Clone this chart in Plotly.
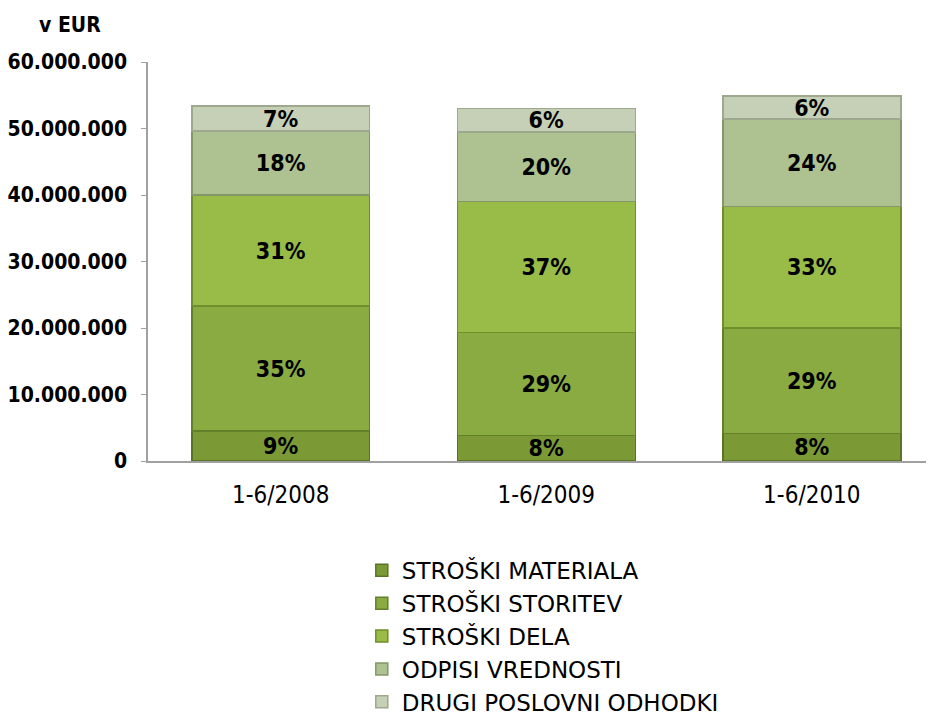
import plotly.graph_objects as go

categories = ["1-6/2008", "1-6/2009", "1-6/2010"]
series_names = ["STROŠKI MATERIALA", "STROŠKI STORITEV", "STROŠKI DELA",
                "ODPISI VREDNOSTI", "DRUGI POSLOVNI ODHODKI"]

materiala = [4.5e6, 3.8e6, 4.1e6]
storitev = [18.8e6, 15.5e6, 15.9e6]
dela = [16.7e6, 19.7e6, 18.3e6]
odpisi = [9.6e6, 10.5e6, 13.1e6]
drugi = [3.8e6, 3.5e6, 3.5e6]

lbl_materiala = ["9%", "8%", "8%"]
lbl_storitev = ["35%", "29%", "29%"]
lbl_dela = ["31%", "37%", "33%"]
lbl_odpisi = ["18%", "20%", "24%"]
lbl_drugi = ["7%", "6%", "6%"]

y_ticks = [0, 10e6, 20e6, 30e6, 40e6, 50e6, 60e6]
y_tick_text = ["0", "10.000.000", "20.000.000", "30.000.000",
               "40.000.000", "50.000.000", "60.000.000"]

values = [materiala, storitev, dela, odpisi, drugi]
labels = [lbl_materiala, lbl_storitev, lbl_dela, lbl_odpisi, lbl_drugi]
colors = ["#7b9a36", "#8aab42", "#98bc47", "#adc290", "#c6d0b6"]
lines = ["#5a7426", "#62802a", "#6f8e2c", "#84976a", "#9ea88f"]

FONT = "DejaVu Sans Condensed, DejaVu Sans, sans-serif"
FONT_R = "DejaVu Sans, sans-serif"

fig = go.Figure()
for name, vals, lbl, c, lc in zip(series_names, values, labels, colors, lines):
    fig.add_trace(go.Bar(
        x=categories, y=vals, name=name, text=lbl,
        textposition="inside", insidetextanchor="middle", textangle=0,
        textfont=dict(family=FONT, size=23, color="black", weight="bold"),
        marker=dict(color=c, line=dict(color=lc, width=1.5)),
        legendgroup=name, width=0.67,
    ))

fig.update_layout(
    width=934, height=717,
    barmode="stack",
    paper_bgcolor="white", plot_bgcolor="white",
    margin=dict(l=140, r=8, t=54, b=264, autoexpand=False),
    font=dict(family=FONT, color="black"),
    uniformtext=dict(minsize=23, mode="show"),
    showlegend=True,
    legend=dict(
        traceorder="grouped", tracegroupgap=0,
        x=0.272, y=-0.220, xanchor="left", yanchor="top",
        font=dict(family=FONT_R, size=23, color="black"),
        itemwidth=30,
    ),
    annotations=[dict(
        text="<b>v EUR</b>", xref="paper", yref="paper",
        x=-0.099, y=1.0, xanchor="center", yanchor="middle", yshift=37,
        showarrow=False, font=dict(family=FONT, size=21, color="black"),
    )],
)
fig.update_xaxes(
    range=[-0.5, 2.46], showline=True, linecolor="#a0a0a0", linewidth=1.5,
    ticks="", showgrid=False, tickangle=0, automargin=False,
    ticklabelstandoff=11,
    tickfont=dict(family=FONT, size=24, color="black"),
)
fig.update_yaxes(
    range=[0, 60e6], tickvals=y_ticks, ticktext=y_tick_text,
    showline=True, linecolor="#a0a0a0", linewidth=1.5,
    ticks="outside", ticklen=5, tickcolor="#a0a0a0",
    showgrid=False, zeroline=False, automargin=False,
    ticklabelstandoff=10,
    tickfont=dict(family=FONT, size=21, color="black", weight="bold"),
)

fig.write_html("out.html")
